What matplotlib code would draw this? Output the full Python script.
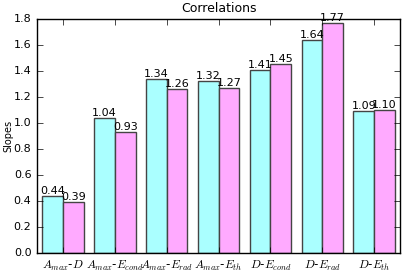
import numpy as np
import matplotlib
matplotlib.use('Agg')
import matplotlib.pyplot as plt

plt.style.use('classic')
plt.rcParams['font.size'] = 8
plt.rcParams['mathtext.fontset'] = 'cm'

pairs = [r'$A_{max}$-$D$', r'$A_{max}$-$E_{cond}$', r'$A_{max}$-$E_{rad}$',
         r'$A_{max}$-$E_{th}$', r'$D$-$E_{cond}$', r'$D$-$E_{rad}$', r'$D$-$E_{th}$']
slopes_a = [0.44, 1.04, 1.34, 1.32, 1.41, 1.64, 1.09]
slopes_b = [0.39, 0.93, 1.26, 1.27, 1.45, 1.77, 1.10]

fig = plt.figure(figsize=(4.07, 2.75), dpi=100)
ax = fig.add_axes([0.091, 0.08, 0.892, 0.851])

x = np.arange(len(pairs))
w = 0.4
bars_a = ax.bar(x + 0.1, slopes_a, w, align='edge', color='#aaffff', edgecolor='#444444', linewidth=1)
bars_b = ax.bar(x + 0.1 + w, slopes_b, w, align='edge', color='#ffaaff', edgecolor='#444444', linewidth=1)

for bars in (bars_a, bars_b):
    for b in bars:
        h = b.get_height()
        ax.text(b.get_x() + b.get_width() / 2, h, '%.2f' % h, ha='center', va='bottom', fontsize=8)

ax.set_xlim(0, len(pairs))
ax.set_ylim(0, 1.8)
ax.set_yticks(np.arange(0, 1.81, 0.2))
ax.set_xticks(x + 0.5)
ax.set_xticklabels(pairs, fontsize=8.5)
ax.set_ylabel('Slopes', fontsize=7)
ax.yaxis.set_label_coords(-0.065, 0.5)
ax.set_title('Correlations', fontsize=9)

fig.savefig('out.png', dpi=100)
